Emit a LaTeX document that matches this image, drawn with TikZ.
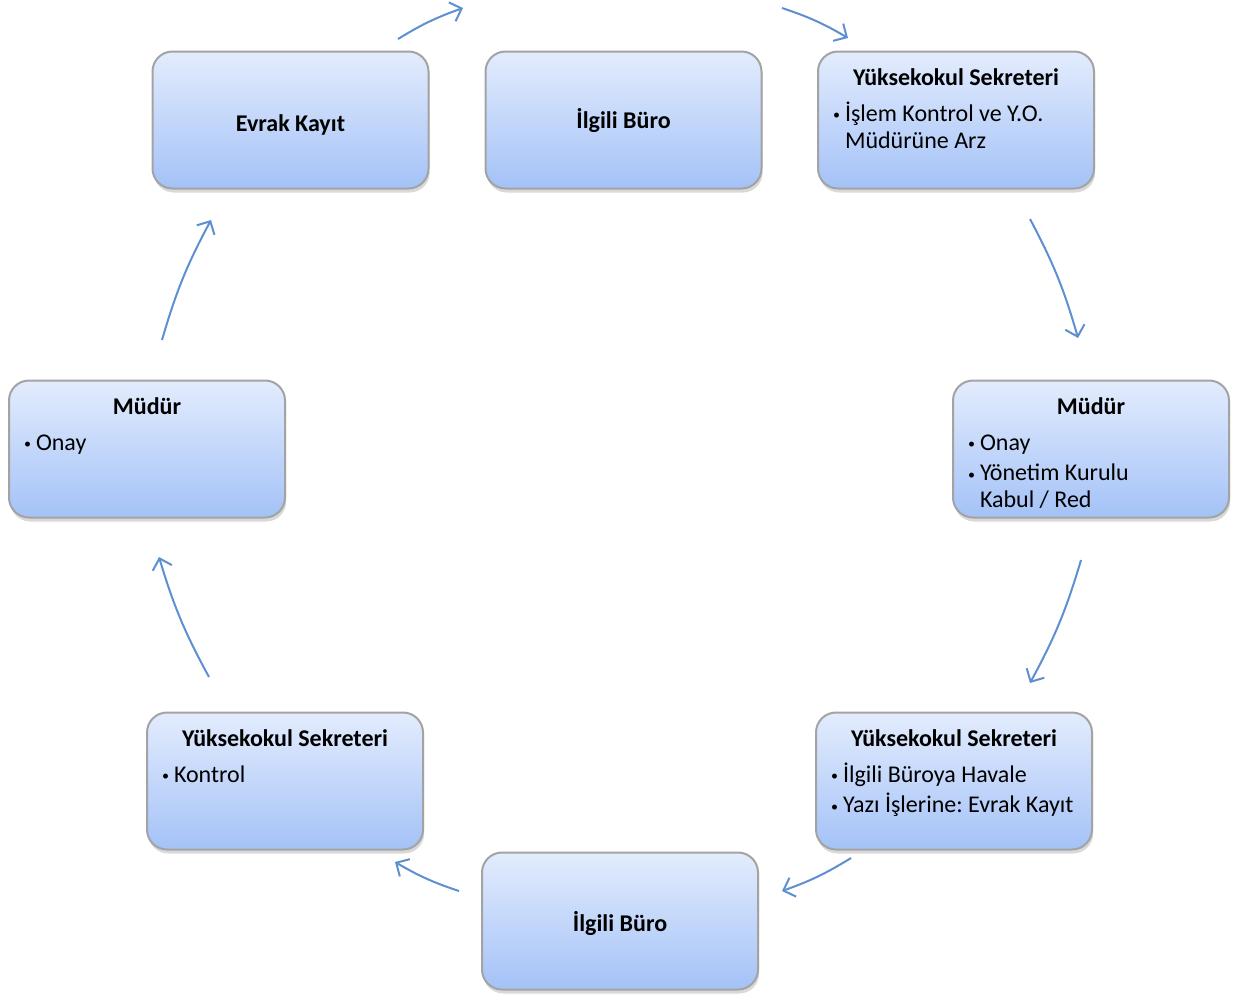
\documentclass[tikz,border=0pt]{standalone}
\usepackage{fontspec}
\setmainfont{Carlito}
\usetikzlibrary{arrows.meta,shadows,positioning}
\definecolor{boxtop}{HTML}{E3ECFD}
\definecolor{boxbot}{HTML}{A4C2F7}
\definecolor{boxline}{HTML}{A3A3A3}
\definecolor{cycblue}{HTML}{5E8FD1}
\tikzset{
  box/.style={draw=boxline, line width=1pt, rounded corners=10pt,
    top color=boxtop, bottom color=boxbot,
    minimum width=138pt, minimum height=68.5pt, inner sep=0pt,
    drop shadow={shadow xshift=0.6pt, shadow yshift=-2pt, opacity=0.3}},
  cyc/.style={draw=cycblue, line width=1pt,
    -{Straight Barb[length=5pt,width=10pt,line width=1pt]}, bend left=6}
}
\newcommand{\onlytitle}[2][0pt]{\parbox[c][68.5pt][c]{138pt}{\vspace*{#1}\centering\bfseries #2}}
\newcommand{\titlelist}[2]{\parbox[c][68.5pt][t]{138pt}{%
  \fontsize{12pt}{13.5pt}\selectfont\frenchspacing
  {\centering\bfseries\rule{0pt}{17pt}#1\par}\vspace{2.5pt}%
  \raggedright\leftskip=13.5pt\parskip=1.8pt #2}}
\newcommand{\itm}[1]{\par\noindent\llap{\raisebox{0.6pt}{\fontsize{7pt}{7pt}\selectfont\textbullet}\hspace{2.5pt}}#1}

\begin{document}
\begin{tikzpicture}[x=0.5pt, y=-0.5pt, font=\fontsize{12pt}{14pt}\selectfont]
  \useasboundingbox (0,0) rectangle (1235,996);

  % boxes of the cycle
  \node[box] (evrak) at (290.5,120) {\onlytitle[5pt]{Evrak Kayıt}};
  \node[box] (buroust) at (623.5,120) {\onlytitle{İlgili Büro}};
  \node[box] (sekust) at (956,120) {\titlelist{Yüksekokul Sekreteri}{%
      \itm{İşlem Kontrol ve Y.O.\\ Müdürüne Arz}}};
  \node[box] (mudsag) at (1091,449) {\titlelist{Müdür}{%
      \itm{Onay}\itm{Yönetim Kurulu\\ Kabul / Red}}};
  \node[box] (sekalt) at (954,781) {\titlelist{Yüksekokul Sekreteri}{%
      \itm{İlgili Büroya Havale}\itm{Yazı İşlerine: Evrak Kayıt}}};
  \node[box] (buroalt) at (620,921) {\onlytitle[2pt]{İlgili Büro}};
  \node[box] (seksol) at (285,781) {\titlelist{Yüksekokul Sekreteri}{%
      \itm{Kontrol}}};
  \node[box] (mudsol) at (147,449) {\titlelist{Müdür}{%
      \itm{Onay}}};

  % arrow ends
  \coordinate (a1) at (398,39);   \coordinate (b1) at (463,8);
  \coordinate (a2) at (782,8);    \coordinate (b2) at (848,38);
  \coordinate (a3) at (1030,219); \coordinate (b3) at (1078,338);
  \coordinate (a4) at (1081,560); \coordinate (b4) at (1030,683);
  \coordinate (a5) at (851,858);  \coordinate (b5) at (782,891);
  \coordinate (a6) at (459,891);  \coordinate (b6) at (395,862);
  \coordinate (a7) at (209,677);  \coordinate (b7) at (159,557);
  \coordinate (a8) at (162,340);  \coordinate (b8) at (211,220);

  \draw[cyc] (a1) to (b1);
  \draw[cyc] (a2) to (b2);
  \draw[cyc] (a3) to (b3);
  \draw[cyc] (a4) to (b4);
  \draw[cyc] (a5) to (b5);
  \draw[cyc] (a6) to (b6);
  \draw[cyc] (a7) to (b7);
  \draw[cyc] (a8) to (b8);
\end{tikzpicture}
\end{document}
